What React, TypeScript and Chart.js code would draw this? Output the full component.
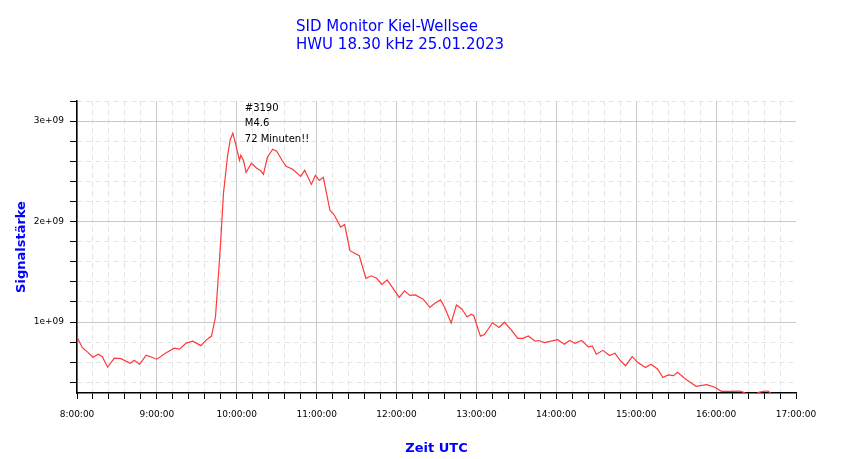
import { useRef, useEffect } from 'react'
import { Chart, registerables } from 'chart.js'

Chart.register(...registerables)

const titleLines = ['SID Monitor Kiel-Wellsee', 'HWU 18.30 kHz 25.01.2023']

// Messzeit (UTC) und Signalstärke in Einheiten von 1e9
const times = [
  '8:00', '8:04', '8:08', '8:12', '8:16', '8:19', '8:23', '8:28', '8:33', '8:40',
  '8:43', '8:47', '8:52', '9:00', '9:07', '9:13', '9:17', '9:22', '9:27', '9:33',
  '9:37', '9:41', '9:44', '9:46', '9:48', '9:50', '9:53', '9:55', '9:57', '9:59',
  '10:02', '10:03', '10:05', '10:07', '10:11', '10:15', '10:18', '10:20', '10:23', '10:27',
  '10:30', '10:34', '10:37', '10:42', '10:48', '10:51', '10:56', '10:59', '11:02', '11:05',
  '11:10', '11:13', '11:18', '11:21', '11:25', '11:32', '11:37', '11:41', '11:45', '11:49',
  '11:53', '12:02', '12:06', '12:10', '12:14', '12:20', '12:25', '12:29', '12:33', '12:36',
  '12:41', '12:45', '12:49', '12:53', '12:56', '12:58', '13:03', '13:06', '13:12', '13:17',
  '13:21', '13:26', '13:31', '13:35', '13:39', '13:44', '13:47', '13:51', '14:01', '14:06',
  '14:10', '14:14', '14:19', '14:24', '14:27', '14:30', '14:35', '14:40', '14:44', '14:48',
  '14:52', '14:57', '15:01', '15:07', '15:11', '15:16', '15:20', '15:24', '15:28', '15:31',
  '15:38', '15:45', '15:53', '15:59', '16:04', '16:11', '16:18', '16:21', '16:26', '16:32',
  '16:36', '16:39', '16:42',
]
const signal = [
  0.85, 0.744, 0.70, 0.65, 0.68, 0.655, 0.55, 0.64, 0.635, 0.59,
  0.62, 0.58, 0.67, 0.63, 0.695, 0.74, 0.73, 0.79, 0.81, 0.765,
  0.82, 0.86, 1.05, 1.42, 1.82, 2.28, 2.645, 2.81, 2.88, 2.78,
  2.61, 2.66, 2.61, 2.49, 2.58, 2.53, 2.505, 2.47, 2.64, 2.72,
  2.70, 2.61, 2.55, 2.52, 2.45, 2.51, 2.37, 2.46, 2.41, 2.44,
  2.11, 2.07, 1.945, 1.97, 1.71, 1.66, 1.435, 1.46, 1.435, 1.375,
  1.42, 1.245, 1.31, 1.265, 1.27, 1.227, 1.145, 1.19, 1.22, 1.15,
  0.99, 1.17, 1.13, 1.05, 1.078, 1.063, 0.86, 0.876, 0.993, 0.945,
  0.998, 0.925, 0.838, 0.838, 0.861, 0.809, 0.816, 0.796, 0.824, 0.778,
  0.816, 0.788, 0.816, 0.753, 0.761, 0.68, 0.718, 0.667, 0.689, 0.617,
  0.565, 0.655, 0.599, 0.547, 0.58, 0.532, 0.448, 0.473, 0.466, 0.50,
  0.423, 0.36, 0.376, 0.351, 0.31, 0.31, 0.313, 0.298, 0.25, 0.30,
  0.311, 0.313, 0.28,
]

const noteLines = ['#3190', 'M4.6', '72 Minuten!!']
const noteTime = '10:06'
const noteValue = 3.1

const START_HOUR = 8
const END_HOUR = 17

const toMinutes = (t: string) => {
  const [h, m] = t.split(':').map(Number)
  return (h - START_HOUR) * 60 + m
}

const isHour = (v: number) => Math.abs(v % 60) < 1e-6
const isWhole = (v: number) => Math.abs(v - Math.round(v)) < 1e-6

const noteMarker = {
  id: 'noteMarker',
  afterDatasetsDraw(chart: Chart) {
    const { ctx, scales } = chart
    const x = scales.x.getPixelForValue(toMinutes(noteTime))
    const y = scales.y.getPixelForValue(noteValue)
    ctx.save()
    ctx.font = '10px "DejaVu Sans"'
    ctx.fillStyle = '#000'
    ctx.textBaseline = 'alphabetic'
    noteLines.forEach((line, i) => ctx.fillText(line, x, y + i * 15.3))
    ctx.restore()
  },
}

export default function App() {
  const canvasRef = useRef<HTMLCanvasElement>(null)
  const chartRef = useRef<Chart | null>(null)

  useEffect(() => {
    if (!canvasRef.current) return
    if (chartRef.current) chartRef.current.destroy()

    Chart.defaults.font.family = '"DejaVu Sans", sans-serif'
    const majorGrid = '#c9c9c9'
    const minorGrid = '#e4e4e4'

    chartRef.current = new Chart(canvasRef.current, {
      type: 'line',
      data: {
        datasets: [{
          label: 'HWU',
          data: times.map((t, i) => ({ x: toMinutes(t), y: signal[i] })),
          borderColor: '#ff3838',
          borderWidth: 1.2,
          pointRadius: 0,
          tension: 0,
          fill: false,
        }],
      },
      options: {
        responsive: true,
        maintainAspectRatio: false,
        animation: false,
        layout: { padding: { left: 0, right: 54, top: 101, bottom: 0 } },
        plugins: { legend: { display: false }, tooltip: { enabled: false }, title: { display: false } },
        scales: {
          x: {
            type: 'linear',
            min: 0,
            max: (END_HOUR - START_HOUR) * 60,
            afterFit: (s: any) => { s.height = 66 },
            ticks: {
              stepSize: 12,
              maxTicksLimit: 200,
              autoSkip: false,
              maxRotation: 0,
              padding: 10,
              color: '#000',
              font: { size: 9 },
              callback: (v: any) => (isHour(Number(v)) ? `${START_HOUR + Number(v) / 60}:00:00` : ''),
            },
            grid: {
              color: (c: any) => {
                const v = c.tick?.value ?? 0
                if (v >= (END_HOUR - START_HOUR) * 60) return 'rgba(0,0,0,0)'
                return isHour(v) ? majorGrid : minorGrid
              },
              lineWidth: 1,
              tickColor: '#000',
              tickLength: 6,
              tickWidth: 1,
            },
            border: {
              color: '#000',
              width: 1.5,
              dash: (c: any) => (c.tick && !isHour(c.tick.value) ? [5, 4] : []),
            },
            title: {
              display: true,
              text: 'Zeit UTC',
              color: '#0000ff',
              font: { size: 13, weight: 'bold' },
              padding: { top: 0, bottom: 3 },
            },
          },
          y: {
            type: 'linear',
            min: 0.2935,
            max: 3.2,
            afterFit: (s: any) => { s.width = 77 },
            ticks: {
              stepSize: 0.2,
              maxTicksLimit: 100,
              includeBounds: false,
              autoSkip: false,
              padding: 6,
              color: '#000',
              font: { size: 9 },
              callback: (v: any) => (isWhole(Number(v)) ? `${Math.round(Number(v))}e+09` : ''),
            },
            grid: {
              color: (c: any) => (isWhole(c.tick?.value ?? 0.5) ? majorGrid : minorGrid),
              lineWidth: 1,
              tickColor: '#000',
              tickLength: 7,
              tickWidth: 1,
            },
            border: {
              color: '#000',
              width: 1.5,
              dash: (c: any) => (c.tick && !isWhole(c.tick.value) ? [5, 4] : []),
            },
            title: {
              display: true,
              text: 'Signalstärke',
              color: '#0000ff',
              font: { size: 13, weight: 'bold' },
              padding: { top: 14, bottom: 0 },
            },
          },
        },
      },
      plugins: [noteMarker],
    })

    return () => { chartRef.current?.destroy() }
  }, [])

  return (
    <div style={{ position: 'absolute', left: 0, top: 0, width: 850, height: 459, background: '#fff' }}>
      <div style={{
        position: 'absolute', left: 296, top: 17, color: '#0000ff',
        font: '15px "DejaVu Sans", sans-serif', lineHeight: '18px', whiteSpace: 'nowrap',
      }}>
        {titleLines.map(l => <div key={l}>{l}</div>)}
      </div>
      <canvas ref={canvasRef} />
    </div>
  )
}
